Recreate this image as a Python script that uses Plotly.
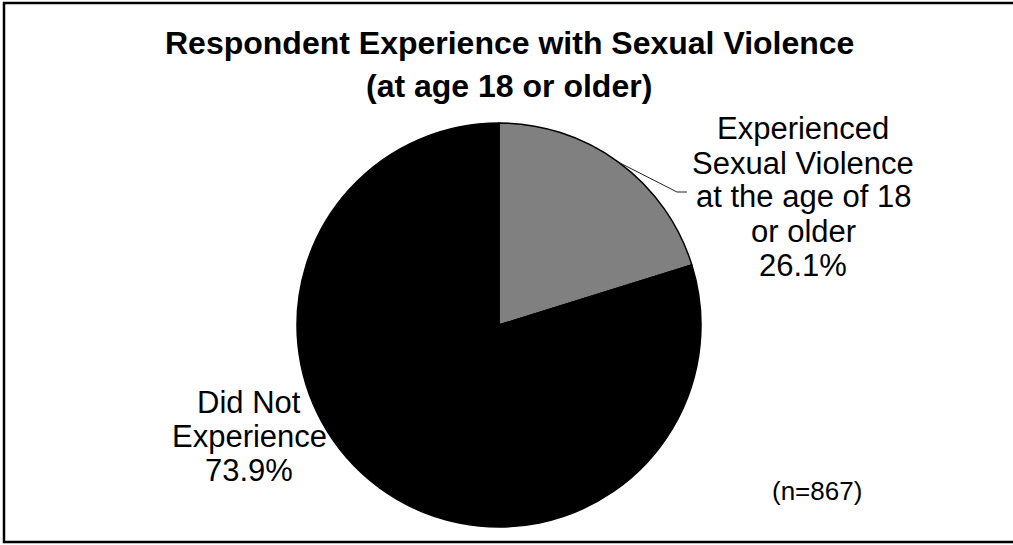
import plotly.graph_objects as go

# ---- data ----
categories = ["Experienced Sexual Violence at the age of 18 or older", "Did Not Experience"]
# share of the circle each slice occupies in the reference drawing (gray wedge spans ~73 degrees)
slice_share = [20.2, 79.8]
# printed data labels
pct_labels = ["26.1%", "73.9%"]
label_lines = [["Experienced", "Sexual Violence", "at the age of 18", "or older"],
               ["Did Not", "Experience"]]
colors = ["#808080", "#000000"]
title_lines = ["Respondent Experience with Sexual Violence", "(at age 18 or older)"]
note = "(n=867)"

W, H = 1013, 545
def px(x):
    return x / W
def py(y):
    return 1 - y / H

FONT = "Liberation Sans, Arial, sans-serif"

cx, cy, r = 499, 325, 202

fig = go.Figure(go.Pie(
    labels=categories,
    values=slice_share,
    sort=False,
    direction="clockwise",
    rotation=0,
    marker=dict(colors=colors, line=dict(color="#000000", width=1.5)),
    textinfo="none",
    hoverinfo="label+percent",
    showlegend=False,
    domain=dict(x=[px(cx - r), px(cx + r)], y=[py(cy + r), py(cy - r)]),
))

ann = []
# title
for i, t in enumerate(title_lines):
    ann.append(dict(x=px(509), y=py(43 + i * 43), xref="paper", yref="paper",
                    text="<b>%s</b>" % t, showarrow=False, xanchor="center", yanchor="middle",
                    font=dict(family=FONT, size=32, color="#000000")))
# right label
right_lines = label_lines[0] + [pct_labels[0]]
for i, t in enumerate(right_lines):
    ann.append(dict(x=px(803), y=py(129 + i * 34), xref="paper", yref="paper",
                    text=t, showarrow=False, xanchor="center", yanchor="middle",
                    font=dict(family=FONT, size=31, color="#000000")))
# left label
left_lines = label_lines[1] + [pct_labels[1]]
for i, t in enumerate(left_lines):
    ann.append(dict(x=px(249), y=py(402 + i * 34), xref="paper", yref="paper",
                    text=t, showarrow=False, xanchor="center", yanchor="middle",
                    font=dict(family=FONT, size=31, color="#000000")))
# n note
ann.append(dict(x=px(817), y=py(491), xref="paper", yref="paper",
                text=note, showarrow=False, xanchor="center", yanchor="middle",
                font=dict(family=FONT, size=26, color="#000000")))

shapes = [
    # leader line
    dict(type="line", xref="paper", yref="paper", x0=px(620), y0=py(163), x1=px(677), y1=py(192),
         line=dict(color="#222222", width=1)),
    dict(type="line", xref="paper", yref="paper", x0=px(677), y0=py(192), x1=px(687), y1=py(192),
         line=dict(color="#222222", width=1)),
    # chart border (right edge lies outside the picture)
    dict(type="rect", xref="paper", yref="paper", x0=px(4), y0=py(542), x1=px(1020), y1=py(3),
         line=dict(color="#000000", width=2.5), fillcolor="rgba(0,0,0,0)", layer="below"),
]

fig.update_layout(
    width=W, height=H,
    margin=dict(l=0, r=0, t=0, b=0),
    paper_bgcolor="#ffffff",
    plot_bgcolor="#ffffff",
    annotations=ann,
    shapes=shapes,
)

fig.write_html(
    "out.html",
    config={"displayModeBar": False},
    post_script="document.body.style.margin='0px';document.body.style.overflow='hidden';",
)
